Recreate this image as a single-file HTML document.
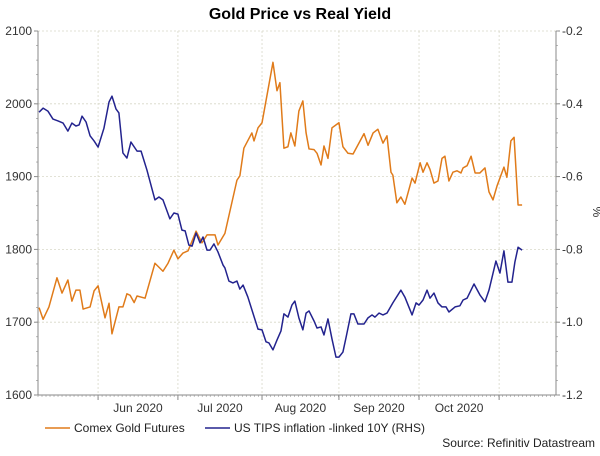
<!DOCTYPE html>
<html><head><meta charset="utf-8"><style>
body{margin:0;background:#fff;font-family:"Liberation Sans",sans-serif}
svg text{font-family:"Liberation Sans",sans-serif}
</style></head><body>
<svg id="chart" width="600" height="451" xmlns="http://www.w3.org/2000/svg">
<text x="300" y="19" text-anchor="middle" font-size="16" font-weight="bold" fill="#000">Gold Price vs Real Yield</text>
<g id="grid"></g>
<g id="axes"></g>
<g id="series"></g>
<text x="593" y="212" font-size="12" fill="#333" text-anchor="middle" transform="rotate(90 593 212)">%</text>
<g>
<g><line x1="45" y1="428" x2="70" y2="428" stroke="#e07b1a" stroke-width="1.5"/><text x="74" y="432" font-size="12" fill="#222">Comex Gold Futures</text></g>
<g><line x1="205" y1="428" x2="230" y2="428" stroke="#23238e" stroke-width="1.5"/><text x="234" y="432" font-size="12" fill="#222">US TIPS inflation -linked 10Y (RHS)</text></g>
</g>
<text x="595" y="447" text-anchor="end" font-size="12" fill="#222">Source: Refinitiv Datastream</text>
</svg>
<script>
const leftTicks=[1600,1700,1800,1900,2000,2100];
const rightTicks=[-1.2,-1.0,-0.8,-0.6,-0.4,-0.2];
const monthLabels=["Jun 2020","Jul 2020","Aug 2020","Sep 2020","Oct 2020"];
const monthStarts=[22.5,52.4,83.9,112.7,142.7,172.7];
const goldDays=[0.4,1.9,4.1,7.1,9,11.2,12.7,14.2,15.7,16.9,19.5,21,22.5,25.1,26.6,27.7,30.3,31.8,33.3,34.5,36,37.1,40.1,43.8,46.8,48.7,50.9,52.4,54.3,56.2,59.2,61.4,63.3,66.3,67.4,70,74.5,75.6,77.1,80.1,80.9,82.4,83.9,88,89.5,90.6,92.1,93.6,94.7,96.2,97.7,99.2,100.4,101.5,103.4,104.5,106,107.1,108.6,110.1,112.7,114.2,116.1,118,122.1,123.6,125.5,127.3,129.2,130.7,132.2,132.9,134.4,135.9,137.4,140.1,141.2,143.1,144.2,145.7,146.8,148.3,149.8,151.3,152.4,153.9,155.4,156.9,158.4,159.2,160.7,162.2,163.7,165.5,167.4,168.9,170.4,171.9,174.5,175.6,177.1,178.3,179.8,181.3];
const goldVals=[1720,1704,1721,1761,1740,1758,1729,1744,1744,1718,1721,1743,1750,1706,1726,1684,1721,1721,1739,1737,1727,1736,1733,1781,1770,1781,1799,1787,1795,1798,1825,1809,1820,1820,1806,1822,1895,1901,1939,1960,1949,1967,1974,2057,2018,2029,1939,1941,1960,1942,1990,2004,1960,1938,1937,1932,1916,1942,1925,1967,1974,1941,1932,1931,1959,1943,1960,1965,1946,1956,1906,1902,1864,1872,1862,1898,1891,1919,1906,1919,1910,1891,1894,1925,1928,1894,1906,1908,1905,1912,1915,1928,1905,1905,1912,1879,1868,1887,1913,1899,1949,1954,1861,1861];
const yieldDays=[0.4,1.9,3.7,5.6,7.5,9.4,11.2,12.7,14.2,15.4,16.5,18,19.5,21,22.5,24.7,26.6,27.7,29.2,30.3,31.8,33.3,34.8,37.1,38.6,40.8,43.8,45.3,46.8,49.4,50.9,52.4,53.9,55.1,56.5,57.7,59.2,60.7,61.8,63.3,64.4,65.9,67.4,69.3,70,71.5,73,74.5,75.6,76.8,78.6,80.5,82.4,83.9,85.4,86.5,88,89.5,91,92.1,93.6,95.1,96.2,97.7,99.2,100.4,101.5,103.4,104.5,106,107.1,108.6,110.1,111.6,112.7,114.2,115.4,117.2,118.3,119.8,122.1,123.6,125.1,126.2,127.7,129.2,130.7,132.9,135.9,137.4,140.1,141.6,142.7,144.2,145.7,146.8,148.3,149.8,151.3,152.8,153.9,156.2,158,159.2,160.7,163.3,165.5,167.4,168.9,171.5,173,174.5,176,177.5,178.6,179.8,181.3];
const yieldVals=[-0.423,-0.412,-0.420,-0.442,-0.447,-0.453,-0.475,-0.453,-0.461,-0.458,-0.434,-0.450,-0.488,-0.502,-0.519,-0.467,-0.395,-0.379,-0.414,-0.425,-0.535,-0.549,-0.505,-0.530,-0.530,-0.582,-0.664,-0.656,-0.664,-0.716,-0.700,-0.703,-0.747,-0.749,-0.788,-0.791,-0.755,-0.782,-0.766,-0.802,-0.802,-0.785,-0.807,-0.843,-0.851,-0.887,-0.892,-0.887,-0.909,-0.898,-0.931,-0.975,-1.019,-1.021,-1.054,-1.057,-1.076,-1.049,-1.024,-0.977,-0.986,-0.953,-0.942,-0.988,-1.021,-0.975,-0.969,-0.997,-1.016,-1.013,-1.035,-0.991,-1.046,-1.096,-1.096,-1.082,-1.041,-0.977,-0.977,-1.005,-1.005,-0.988,-0.980,-0.986,-0.975,-0.980,-0.975,-0.947,-0.912,-0.931,-0.980,-0.947,-0.953,-0.939,-0.912,-0.934,-0.920,-0.947,-0.958,-0.958,-0.972,-0.958,-0.955,-0.939,-0.934,-0.895,-0.925,-0.944,-0.912,-0.832,-0.865,-0.804,-0.890,-0.890,-0.835,-0.794,-0.802];

const L=38,R=556,T=31,B=395,NS="http://www.w3.org/2000/svg";
const xS=d=>L+(R-L)*d/194;
const yL=v=>B-(B-T)*(v-1600)/500;
const yR=v=>T+(B-T)*(-0.2-v)/1.0;
function mk(tag,attrs,parent){const e=document.createElementNS(NS,tag);for(const k in attrs)e.setAttribute(k,attrs[k]);parent.appendChild(e);return e;}
const grid=document.getElementById('grid'),axes=document.getElementById('axes'),series=document.getElementById('series');
leftTicks.forEach(v=>{
 const y=yL(v);
 if(v>1600){const g=mk('line',{x1:L,x2:R,y1:y,y2:y,stroke:'#d8d8c8','stroke-dasharray':'2,2','stroke-width':0.8},grid);
 
 }
 const t=mk('text',{x:L-6,y:y+4,'text-anchor':'end','font-size':12,fill:'#333'},axes);t.textContent=v;
 
 
 mk('line',{x1:L-4,x2:L,y1:y,y2:y,stroke:'#888'},axes);
});
for(let v=1600;v<=2100;v+=20){mk('line',{x1:L-2,x2:L,y1:yL(v),y2:yL(v),stroke:'#999','stroke-width':0.7},axes);}
rightTicks.forEach(v=>{
 const y=yR(v);
 const t=mk('text',{x:R+6,y:y+4,'font-size':12,fill:'#333'},axes);t.textContent=v.toFixed(1);
 
 
 mk('line',{x1:R,x2:R+4,y1:y,y2:y,stroke:'#888'},axes);
});
for(let i=0;i<=25;i++){const y=T+(B-T)*i/25;mk('line',{x1:R,x2:R+2,y1:y,y2:y,stroke:'#999','stroke-width':0.7},axes);}
monthStarts.forEach(d=>{
 const x=xS(d);
 const g=mk('line',{x1:x,x2:x,y1:T,y2:B,stroke:'#d8d8c8','stroke-dasharray':'2,2','stroke-width':0.8},grid);
 
 
 mk('line',{x1:x,x2:x,y1:B,y2:B+5,stroke:'#888'},axes);
});
for(let d=0;d<=194;d+=1.5){mk('line',{x1:xS(d),x2:xS(d),y1:B,y2:B+2,stroke:'#999','stroke-width':0.6},axes);}
monthLabels.forEach((m,i)=>{
 const t=mk('text',{x:(xS(monthStarts[i])+xS(monthStarts[i+1]))/2,y:B+17,'text-anchor':'middle','font-size':12,fill:'#333'},axes);t.textContent=m;
 
 
});
mk('line',{x1:L,x2:L,y1:T,y2:B,stroke:'#888'},axes);
mk('line',{x1:R,x2:R,y1:T,y2:B,stroke:'#888'},axes);
mk('line',{x1:L,x2:R,y1:B,y2:B,stroke:'#888'},axes);
const gp=mk('polyline',{points:goldDays.map((d,i)=>xS(d)+','+yL(goldVals[i])).join(' '),fill:'none',stroke:'#e07b1a','stroke-width':1.5,'stroke-linejoin':'round'},series);


const yp=mk('polyline',{points:yieldDays.map((d,i)=>xS(d)+','+yR(yieldVals[i])).join(' '),fill:'none',stroke:'#23238e','stroke-width':1.5,'stroke-linejoin':'round'},series);


</script>
</body></html>
